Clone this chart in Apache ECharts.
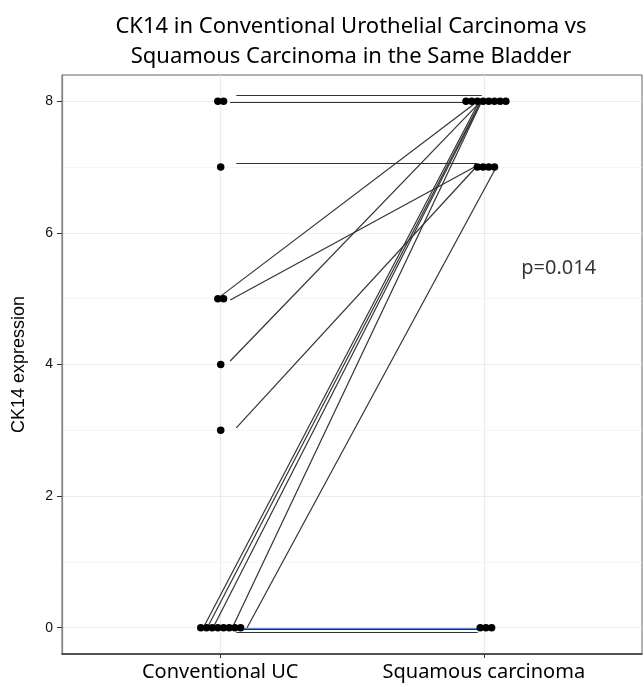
<!DOCTYPE html>
<html><head><meta charset="utf-8">
<script src="https://cdn.jsdelivr.net/npm/echarts@6/dist/echarts.min.js"></script>
<style>html,body{margin:0;padding:0;background:#fff}#c{width:644px;height:687px}</style>
</head><body><div id="c"></div>
<script>
// ---- data ----
var categories = ['Conventional UC', 'Squamous carcinoma'];
var ucValues  = [8, 8, 7, 5, 5, 4, 3, 0, 0, 0, 0, 0, 0, 0, 0];
var sccValues = [8, 8, 7, 8, 7, 8, 7, 8, 8, 8, 8, 7, 0, 0, 0];
// jitter of the connecting lines (data units), as seen in the reference
var ucLineJitterX  = [0.061, 0.038, 0.061, -0.008, 0.038, 0.038, 0.061, -0.064, -0.049, -0.027, 0.046, 0.102, -0.008, 0.008, 0.061];
var ucLineJitterY  = [0.091, -0.008, 0.066, 0.009, -0.021, 0.053, 0.036, 0, 0, 0, 0, 0, -0.005, -0.030, -0.071];
var sccLineJitterX = [-0.008, -0.053, -0.027, -0.023, -0.030, -0.015, -0.023, -0.019, -0.015, -0.011, -0.008, 0.049, -0.023, -0.023, -0.023];
var sccLineJitterY = [0.091, -0.008, 0.066, 0, 0.013, -0.015, 0.028, -0.015, -0.030, -0.015, 0, 0.013, -0.005, -0.030, -0.071];
var yTicks = [0, 2, 4, 6, 8];
var pLabel = 'p=0.014';

// ---- build ----
var DOT_STEP = 0.0216;
var sideShift = [0.002, 0.008];
function dotLayout(values, side) {
  var groups = {};
  values.forEach(function (v) { groups[v] = (groups[v] || 0) + 1; });
  var out = [];
  Object.keys(groups).forEach(function (k) {
    var n = groups[k];
    for (var i = 0; i < n; i++) {
      out.push([side + 1 + sideShift[side] + (i - (n - 1) / 2) * DOT_STEP, +k]);
    }
  });
  return out;
}
var dots = dotLayout(ucValues, 0).concat(dotLayout(sccValues, 1));

var lineData = ucValues.map(function (u, i) {
  var zeroPair = (u === 0 && sccValues[i] === 0);
  return {
    coords: [[1 + ucLineJitterX[i], u + ucLineJitterY[i]], [2 + sccLineJitterX[i], sccValues[i] + sccLineJitterY[i]]],
    lineStyle: (zeroPair && i === 12) ? { color: '#5b86d1' } : {}
  };
});

var majorY = yTicks.map(function (v) { return { yAxis: v }; });
var minorY = [1, 3, 5, 7].map(function (v) { return { yAxis: v }; });
var vertX = [1, 2].map(function (v) { return { xAxis: v }; });

var chart = echarts.init(document.getElementById('c'));
chart.setOption({
  animation: false,
  backgroundColor: '#fff',
  title: {
    text: 'CK14 in Conventional Urothelial Carcinoma vs\nSquamous Carcinoma in the Same Bladder',
    left: 346, top: 7, textAlign: 'center',
    textStyle: { fontFamily: 'Noto Sans', fontSize: 22, fontWeight: 'normal', color: '#000', lineHeight: 30 }
  },
  grid: { left: 62, right: 2, top: 75, bottom: 33, show: true, borderColor: '#666', borderWidth: 1, backgroundColor: '#fff' },
  xAxis: {
    type: 'value', min: 0.4, max: 2.6,
    splitLine: { show: false },
    axisLine: { show: true, onZero: false, lineStyle: { color: '#333', width: 1.5 } },
    axisTick: { show: true, customValues: [1, 2], length: 4, lineStyle: { color: '#333' } },
    axisLabel: { customValues: [1, 2], formatter: function (v) { return categories[Math.round(v) - 1]; },
      fontFamily: 'Noto Sans', fontSize: 20, color: '#000', margin: 8 }
  },
  yAxis: {
    type: 'value', min: -0.4, max: 8.4,
    name: 'CK14 expression', nameLocation: 'middle', nameRotate: 90, nameGap: 34,
    nameTextStyle: { fontFamily: 'Liberation Sans', fontSize: 18, color: '#000' },
    splitLine: { show: false },
    axisLine: { show: true, onZero: false, lineStyle: { color: '#888', width: 1.3 } },
    axisTick: { show: true, customValues: yTicks, length: 5, lineStyle: { color: '#333' } },
    axisLabel: { customValues: yTicks, fontFamily: 'Liberation Sans', fontSize: 14, color: '#111', margin: 9 }
  },
  series: [
    {
      type: 'scatter', data: [], silent: true, z: 0, zlevel: 0,
      markLine: {
        silent: true, symbol: 'none', label: { show: false }, z: 0,
        lineStyle: { color: '#ebebeb', width: 1.2, type: 'solid' },
        data: majorY.concat(vertX)
      }
    },
    {
      type: 'scatter', data: [], silent: true, z: 0,
      markLine: {
        silent: true, symbol: 'none', label: { show: false }, z: 0,
        lineStyle: { color: '#f4f4f4', width: 0.8, type: 'solid' },
        data: minorY
      }
    },
    {
      type: 'lines', coordinateSystem: 'cartesian2d', silent: true, z: 3,
      lineStyle: { color: '#333', width: 1.2, opacity: 1 },
      data: lineData
    },
    {
      type: 'scatter', silent: true, symbol: 'circle', symbolSize: 7.5, z: 5,
      itemStyle: { color: '#000', opacity: 1 }, data: dots
    },
    {
      type: 'scatter', silent: true, symbolSize: 0, z: 5,
      data: [[2.142, 5.46]],
      label: { show: true, position: 'right', distance: 0, formatter: pLabel,
        fontFamily: 'Noto Sans', fontSize: 20, color: '#000' }
    }
  ]
});
</script></body></html>
